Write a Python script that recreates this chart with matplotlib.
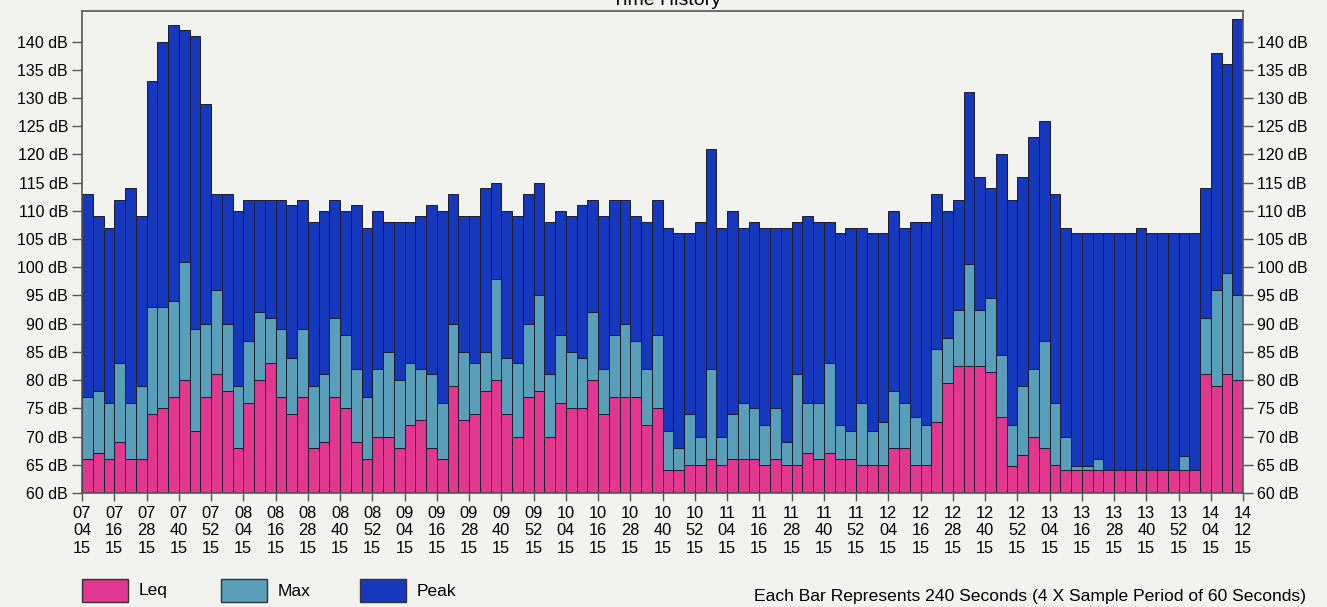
import matplotlib
matplotlib.use("Agg")
import matplotlib.pyplot as plt
from matplotlib.patches import Rectangle
import numpy as np

# levels per 4-minute bar (dB)
leq = [66, 67, 66, 69, 66, 66, 74, 75, 77, 80,
       71, 77, 81, 78, 68, 76, 80, 83, 77, 74,
       77, 68, 69, 77, 75, 69, 66, 70, 70, 68,
       72, 73, 68, 66, 79, 73, 74, 78, 80, 74,
       70, 77, 78, 70, 76, 75, 75, 80, 74, 77,
       77, 77, 72, 75, 64, 64, 65, 65, 66, 65,
       66, 66, 66, 65, 66, 65, 65, 67, 66, 67,
       66, 66, 65, 65, 65, 68, 68, 65, 65, 72.5,
       79.5, 82.5, 82.5, 82.5, 81.5, 73.5, 64.8, 66.8, 70, 68,
       65, 64, 64, 64, 64, 64, 64, 64, 64, 64,
       64, 64, 64, 64, 81, 79, 81, 80]
lmax = [77, 78, 76, 83, 76, 79, 93, 93, 94, 101,
        89, 90, 96, 90, 79, 87, 92, 91, 89, 84,
        89, 79, 81, 91, 88, 82, 77, 82, 85, 80,
        83, 82, 81, 76, 90, 85, 83, 85, 98, 84,
        83, 90, 95, 81, 88, 85, 84, 92, 82, 88,
        90, 87, 82, 88, 71, 68, 74, 70, 82, 70,
        74, 76, 75, 72, 75, 69, 81, 76, 76, 83,
        72, 71, 76, 71, 72.5, 78, 76, 73.5, 72, 85.5,
        87.5, 92.5, 100.5, 92.5, 94.5, 84.5, 72, 79, 82, 87,
        76, 70, 64.8, 64.8, 66, 64, 64, 64, 64, 64,
        64, 64, 66.6, 64, 91, 96, 99, 95]
peak = [113, 109, 107, 112, 114, 109, 133, 140, 143, 142,
        141, 129, 113, 113, 110, 112, 112, 112, 112, 111,
        112, 108, 110, 112, 110, 111, 107, 110, 108, 108,
        108, 109, 111, 110, 113, 109, 109, 114, 115, 110,
        109, 113, 115, 108, 110, 109, 111, 112, 109, 112,
        112, 109, 108, 112, 107, 106, 106, 108, 121, 107,
        110, 107, 108, 107, 107, 107, 108, 109, 108, 108,
        106, 107, 107, 106, 106, 110, 107, 108, 108, 113,
        110, 112, 131, 116, 114, 120, 112, 116, 123, 126,
        113, 107, 106, 106, 106, 106, 106, 106, 107, 106,
        106, 106, 106, 106, 114, 138, 136, 144]

tick_labels = ["07\n04\n15", "07\n16\n15", "07\n28\n15", "07\n40\n15", "07\n52\n15",
               "08\n04\n15", "08\n16\n15", "08\n28\n15", "08\n40\n15", "08\n52\n15",
               "09\n04\n15", "09\n16\n15", "09\n28\n15", "09\n40\n15", "09\n52\n15",
               "10\n04\n15", "10\n16\n15", "10\n28\n15", "10\n40\n15", "10\n52\n15",
               "11\n04\n15", "11\n16\n15", "11\n28\n15", "11\n40\n15", "11\n52\n15",
               "12\n04\n15", "12\n16\n15", "12\n28\n15", "12\n40\n15", "12\n52\n15",
               "13\n04\n15", "13\n16\n15", "13\n28\n15", "13\n40\n15", "13\n52\n15",
               "14\n04\n15", "14\n12\n15"]
y_ticks = [60, 65, 70, 75, 80, 85, 90, 95, 100, 105, 110, 115, 120, 125, 130, 135, 140]

PINK = "#e1378f"
TEAL = "#5a9fba"
BLUE = "#1538bd"
EDGE = "#1b1b2b"
BG = "#f2f2ee"

plt.rcParams["font.family"] = ["Liberation Sans", "DejaVu Sans"]

W, H = 1327, 607
fig = plt.figure(figsize=(W / 100, H / 100), dpi=100, facecolor=BG)
ax = fig.add_axes([82 / W, 1 - 493 / H, (1243 - 82) / W, (493 - 10.5) / H])
ax.set_facecolor(BG)

leq = np.array(leq)
lmax = np.array(lmax)
peak = np.array(peak)
x = np.arange(len(leq))
kw = dict(width=1.0, align="edge", edgecolor=EDGE, linewidth=0.7)
ax.bar(x, leq - 60, bottom=60, color=PINK, **kw)
ax.bar(x, lmax - leq, bottom=leq, color=TEAL, **kw)
ax.bar(x, peak - lmax, bottom=lmax, color=BLUE, **kw)

ax.set_xlim(0, len(leq))
ax.set_ylim(60, 145.5)

xt = list(range(0, 106, 3)) + [len(leq)]
ax.set_xticks(xt)
ax.set_xticklabels(tick_labels, fontsize=11.8, linespacing=1.22)
ax.set_yticks(y_ticks)
ax.set_yticklabels([f"{v} dB" for v in y_ticks], fontsize=11.5)
ax.tick_params(axis="y", left=True, right=True, labelleft=True, labelright=True,
               length=7, width=1, color="#555555", pad=3)
ax.tick_params(axis="x", length=6, width=1, color="#555555", pad=3)
for s in ax.spines.values():
    s.set_color("#555555")
    s.set_linewidth(1.2)

# legend
items = [(82, PINK, "Leq"), (221, TEAL, "Max"), (360, BLUE, "Peak")]
for px, c, lab in items:
    fig.add_artist(Rectangle((px / W, 1 - 602 / H), 46 / W, 23 / H, transform=fig.transFigure,
                             facecolor=c, edgecolor="#333333", linewidth=1))
    fig.text((px + 57) / W, 1 - 591 / H, lab, fontsize=12.5, va="center", ha="left")

# title sits at the very top edge, as on the printout
fig.text(667 / W, 1 - 5 / H, "Time History", fontsize=14, ha="center", va="baseline")
fig.text(1306 / W, 1 - 597 / H,
         "Each Bar Represents 240 Seconds (4 X Sample Period of 60 Seconds)",
         fontsize=12.6, ha="right", va="center")

fig.savefig("out.png", dpi=100, facecolor=BG)
